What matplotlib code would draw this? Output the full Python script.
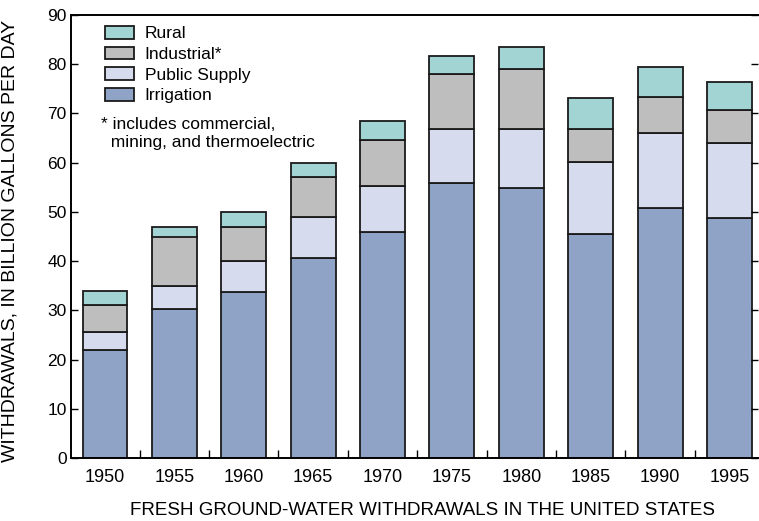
import numpy as np
import matplotlib
matplotlib.use("Agg")
import matplotlib.pyplot as plt
from matplotlib.patches import Patch

plt.rcParams['font.family'] = ['Liberation Sans', 'DejaVu Sans']

years = ['1950', '1955', '1960', '1965', '1970', '1975', '1980', '1985', '1990', '1995']
irrigation = [22.0, 30.3, 33.8, 40.7, 46.0, 55.9, 54.9, 45.5, 50.8, 48.8]
public_supply = [3.5, 4.7, 6.3, 8.2, 9.2, 11.0, 12.0, 14.6, 15.2, 15.2]
industrial = [5.5, 10.0, 6.9, 8.1, 9.5, 11.1, 12.1, 6.8, 7.4, 6.7]
rural = [3.0, 2.0, 3.0, 3.0, 3.7, 3.6, 4.4, 6.2, 6.0, 5.6]

labels = ['Irrigation', 'Public Supply', 'Industrial*', 'Rural']
colors = ['#8fa3c6', '#d6dbee', '#bebebe', '#a2d4d3']

fig = plt.figure(figsize=(7.59, 5.21), dpi=100)
ax = fig.add_axes([71 / 759, 63 / 521, 687 / 759, 443 / 521])

x = np.arange(len(years))
bottom = np.zeros(len(years))
handles = []
for vals, lab, col in zip([irrigation, public_supply, industrial, rural], labels, colors):
    ax.bar(x, vals, width=0.648, bottom=bottom, color=col, edgecolor='#1a1a1a', linewidth=1.3)
    bottom += np.array(vals)
    handles.append(Patch(facecolor=col, edgecolor='#1a1a1a', linewidth=1.3, label=lab))

ax.set_xlim(-0.49, 9.41)
ax.set_ylim(0, 90)

ax.set_yticks(range(0, 91, 10))
ax.tick_params(axis='y', direction='in', length=5, width=1, labelsize=12.5, pad=3,
               right=True)

ax.set_xticks(x)
ax.set_xticklabels(years)
ax.set_xticks(x[:-1] + 0.5, minor=True)
ax.tick_params(axis='x', which='major', length=0, labelsize=13, pad=8)
ax.tick_params(axis='x', which='minor', direction='in', length=6, width=1)

for s in ['left', 'bottom', 'top']:
    ax.spines[s].set_linewidth(1.4)
ax.spines['right'].set_visible(False)

ax.set_ylabel('WITHDRAWALS, IN BILLION GALLONS PER DAY', fontsize=14)
ax.yaxis.set_label_coords(-0.077, 0.489)
ax.set_xlabel('FRESH GROUND-WATER WITHDRAWALS IN THE UNITED STATES', fontsize=13.5)
ax.xaxis.set_label_coords(0.512, -0.099)

leg = ax.legend(handles=handles[::-1], loc='upper left', bbox_to_anchor=(0.05, 0.975),
                frameon=False, fontsize=12.5, handlelength=1.67, handleheight=0.75,
                handletextpad=0.6, labelspacing=0.3, borderpad=0, borderaxespad=0)

ax.text(0.044, 0.77, '* includes commercial,\n  mining, and thermoelectric', transform=ax.transAxes,
        fontsize=12.5, va='top', ha='left', linespacing=1.28)

fig.savefig('out.png', dpi=100)
